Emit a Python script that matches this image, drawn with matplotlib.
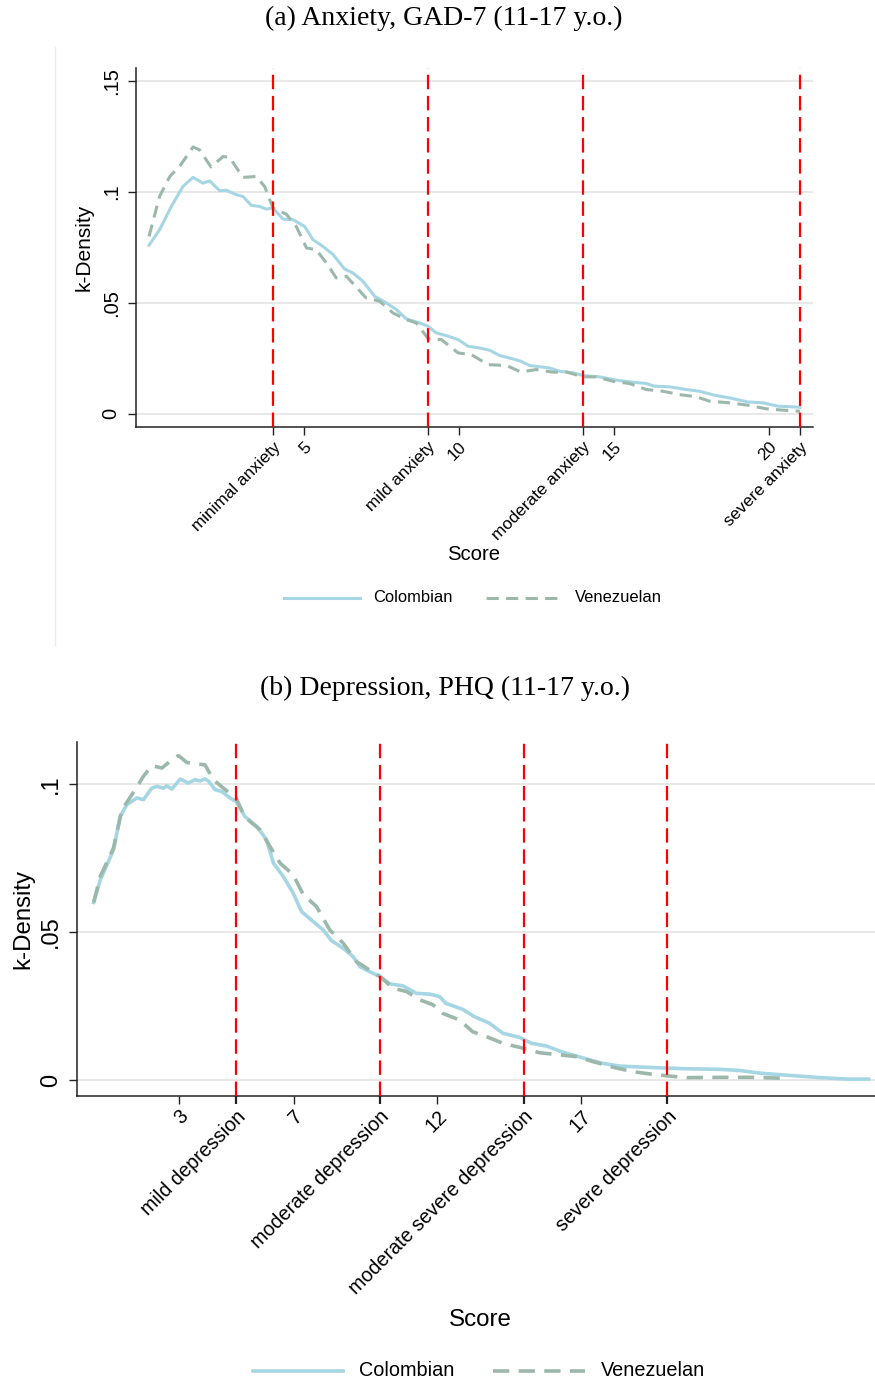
import matplotlib
matplotlib.use("Agg")
import matplotlib.pyplot as plt
from matplotlib.lines import Line2D

# ---------------- data ----------------
# Panel (a): GAD-7 anxiety score, kernel density by nationality
gad_score_col = [0.0, 0.34, 0.72, 1.1, 1.42, 1.74, 1.96, 2.28, 2.49, 2.82, 3.03, 3.3, 3.57, 3.78,
                 4.0, 4.32, 4.65, 5.02, 5.29, 5.61, 5.94, 6.31, 6.58, 6.9, 7.28, 7.66, 7.98,
                 8.3, 8.73, 9.0, 9.27, 9.59, 9.97, 10.29, 10.67, 10.99, 11.31, 11.74, 12.0,
                 12.28, 12.92, 13.25, 13.68, 14.0, 14.54, 15.08, 15.61, 16.04, 16.3, 16.8,
                 17.33, 17.76, 18.25, 18.73, 19.32, 19.8, 20.29, 21.0]
gad_dens_col = [0.076, 0.083, 0.0935, 0.1026, 0.1066, 0.104, 0.105, 0.1006, 0.1008, 0.0988,
                0.098, 0.094, 0.0935, 0.0923, 0.0928, 0.0878, 0.0875, 0.0845, 0.0785, 0.0755,
                0.0718, 0.0653, 0.0635, 0.0598, 0.053, 0.050, 0.047, 0.0428, 0.041, 0.0395,
                0.0365, 0.0353, 0.0335, 0.0305, 0.0297, 0.0287, 0.0263, 0.0248, 0.0237,
                0.0218, 0.0207, 0.0192, 0.0185, 0.0173, 0.0167, 0.0152, 0.0143, 0.0137,
                0.0125, 0.0122, 0.011, 0.0102, 0.0084, 0.0072, 0.0054, 0.005, 0.0035, 0.003]

gad_score_ven = [0.0, 0.34, 0.67, 0.99, 1.42, 1.63, 2.0, 2.39, 2.6, 3.03, 3.46, 3.73, 4.0,
                 4.43, 4.75, 5.08, 5.4, 5.72, 6.04, 6.37, 7.0, 7.44, 7.87, 8.3, 8.62, 9.0,
                 9.43, 9.97, 10.4, 10.94, 11.53, 12.0, 12.49, 13.03, 13.46, 14.0, 14.43,
                 14.97, 15.5, 16.04, 16.58, 17.12, 17.66, 18.09, 18.73, 19.38, 19.91, 20.45,
                 21.0]
gad_dens_ven = [0.080, 0.098, 0.107, 0.1116, 0.1203, 0.119, 0.1113, 0.116, 0.1156, 0.1066,
                0.107, 0.1025, 0.0928, 0.090, 0.0845, 0.0748, 0.074, 0.068, 0.0613, 0.062,
                0.0523, 0.0508, 0.0455, 0.0425, 0.041, 0.034, 0.0335, 0.0275, 0.0267,
                0.0222, 0.0218, 0.0189, 0.020, 0.0188, 0.0189, 0.0167, 0.0167, 0.0147,
                0.0137, 0.011, 0.0102, 0.0087, 0.0077, 0.0057, 0.005, 0.0038, 0.0023,
                0.0017, 0.0012]

gad_cut_values = [4, 9, 14, 21]
gad_cut_labels = ["minimal anxiety", "mild anxiety", "moderate anxiety", "severe anxiety"]
gad_num_ticks = [5, 10, 15, 20]

# Panel (b): PHQ depression score, kernel density by nationality
phq_score_col = [0.05, 0.28, 0.74, 0.97, 1.2, 1.55, 1.78, 2.07, 2.25, 2.48, 2.59, 2.77, 3.06,
                 3.34, 3.58, 3.75, 3.92, 4.04, 4.27, 4.5, 4.79, 5.0, 5.31, 5.72, 6.06, 6.3,
                 6.64, 6.99, 7.28, 7.69, 8.03, 8.32, 8.73, 9.07, 9.31, 9.65, 10.0, 10.35,
                 10.81, 11.27, 11.74, 12.08, 12.3, 12.88, 13.29, 13.81, 14.28, 14.86, 15.27,
                 15.79, 16.37, 16.84, 17.3, 17.77, 18.35, 19.51, 20.67, 21.84, 22.53, 23.23,
                 24.05, 25.33, 26.26, 27.0]
phq_dens_col = [0.060, 0.0676, 0.0778, 0.089, 0.093, 0.0953, 0.0947, 0.0986, 0.0992, 0.0986,
                0.0994, 0.0983, 0.1017, 0.1003, 0.1015, 0.101, 0.1017, 0.101, 0.0981, 0.0975,
                0.0953, 0.0941, 0.089, 0.0857, 0.0812, 0.0733, 0.0688, 0.0631, 0.0569,
                0.0535, 0.0507, 0.0471, 0.0445, 0.0417, 0.0383, 0.0366, 0.035, 0.0325,
                0.0318, 0.0293, 0.029, 0.0282, 0.0259, 0.0239, 0.0214, 0.0192, 0.0158,
                0.0144, 0.0124, 0.0115, 0.0094, 0.0081, 0.0068, 0.0056, 0.0047, 0.0042,
                0.0038, 0.0036, 0.0032, 0.0023, 0.0017, 0.0008, 0.0003, 0.0003]

phq_score_ven = [0.05, 0.28, 0.74, 1.03, 1.38, 1.78, 2.07, 2.42, 2.71, 3.0, 3.29, 3.58, 3.92,
                 4.21, 4.56, 5.0, 5.31, 5.83, 6.18, 6.53, 6.99, 7.34, 7.8, 8.26, 8.73, 9.19,
                 9.54, 10.0, 10.46, 10.93, 11.39, 11.85, 12.19, 12.77, 13.23, 13.7, 14.28,
                 15.0, 15.56, 16.26, 16.84, 17.42, 18.12, 18.81, 19.51, 20.0, 20.67, 21.84,
                 23.0, 24.0]
phq_dens_ven = [0.060, 0.0688, 0.0784, 0.0913, 0.0964, 0.1026, 0.1062, 0.1054, 0.1077,
                0.1096, 0.1073, 0.1068, 0.1065, 0.1015, 0.0986, 0.0953, 0.0888, 0.0846,
                0.0789, 0.0733, 0.0693, 0.0626, 0.0586, 0.0507, 0.0462, 0.040, 0.0378,
                0.035, 0.031, 0.0299, 0.0271, 0.0254, 0.0225, 0.0203, 0.0163, 0.0147,
                0.0124, 0.0107, 0.0092, 0.0085, 0.0079, 0.0062, 0.0043, 0.0028, 0.0019,
                0.0014, 0.0008, 0.0009, 0.0009, 0.0006]

phq_cut_values = [5, 10, 15, 20]
phq_cut_labels = ["mild depression", "moderate depression",
                  "moderate severe depression", "severe depression"]
phq_num_ticks = [3, 7, 12, 17]

# ---------------- style ----------------
COL_COL = "#a6d6e4"
VEN_COL = "#9bb8ab"
CUT_COL = "#ff0000"
GRID_COL = "#e6e6e6"
SANS = ["Liberation Sans", "DejaVu Sans"]
SERIF = ["Liberation Serif", "DejaVu Serif"]

W, H = 875, 1385
fig = plt.figure(figsize=(W / 100, H / 100), dpi=100)
fig.patch.set_facecolor("white")


def px_axes(left, right, top, bottom):
    return fig.add_axes([left / W, 1 - bottom / H, (right - left) / W, (bottom - top) / H])


def fmt_y(v):
    s = ("%g" % v)
    return s[1:] if s.startswith("0.") else s


def draw_panel(ax, xs_c, ys_c, xs_v, ys_v, cuts, cut_labels, nums, yticks,
               xlim, ylim, sizes, lws, dash_v, red_ticks, xpad):
    ytick_fs, xtick_fs = sizes
    ax.set_xlim(*xlim)
    ax.set_ylim(*ylim)
    for y in yticks:
        ax.axhline(y, color=GRID_COL, lw=1.3, zorder=0)
    for c in cuts:
        ax.axvline(c, color=CUT_COL, lw=1.6, dashes=(6.5, 3.0), zorder=3)
    ax.plot(xs_c, ys_c, color=COL_COL, lw=lws, solid_joinstyle="round", zorder=2)
    ax.plot(xs_v, ys_v, color=VEN_COL, lw=lws, dashes=dash_v, zorder=2)

    for s in ("top", "right"):
        ax.spines[s].set_visible(False)
    for s in ("left", "bottom"):
        ax.spines[s].set_color("#222222")
        ax.spines[s].set_linewidth(1.1)

    ax.set_yticks(yticks)
    ax.set_yticklabels([fmt_y(v) for v in yticks], rotation=90, va="center",
                       family=SANS, fontsize=ytick_fs)
    ax.tick_params(axis="y", length=6, width=1.0, pad=5, color="#222222")

    ticks = list(cuts) + list(nums)
    labels = list(cut_labels) + [str(n) for n in nums]
    order = sorted(range(len(ticks)), key=lambda i: ticks[i])
    ax.set_xticks([ticks[i] for i in order])
    ax.set_xticklabels([labels[i] for i in order], rotation=45, ha="right",
                       rotation_mode="anchor", family=SANS, fontsize=xtick_fs)
    ax.tick_params(axis="x", length=6, width=1.0, pad=xpad, color="#222222")
    if red_ticks:
        for t, lab in zip(ax.xaxis.get_major_ticks(), [labels[i] for i in order]):
            if lab in cut_labels:
                t.tick1line.set_color(CUT_COL)
                t.tick1line.set_markeredgewidth(1.6)


# ---------------- panel (a) ----------------
ax1 = px_axes(136, 813, 68, 427)
draw_panel(ax1, gad_score_col, gad_dens_col, gad_score_ven, gad_dens_ven,
           gad_cut_values, gad_cut_labels, gad_num_ticks, [0, 0.05, 0.1, 0.15],
           (-0.42, 21.42), (-0.0059, 0.1559), (14.5, 12.3), 2.2, (4.0, 2.4), False, 3)
ax1.set_ylabel("k-Density", family=SANS, fontsize=15, labelpad=6)
fig.text(444 / W, 1 - 18 / H, "(a) Anxiety, GAD-7 (11-17 y.o.)", family=SERIF,
         fontsize=20, ha="center", va="center")
fig.text(474 / W, 1 - 554 / H, "Score", family=SANS, fontsize=14.6,
         ha="center", va="center")
fig.add_artist(Line2D([55 / W, 55 / W], [1 - 47 / H, 1 - 645 / H], color="#ececec", lw=1.0))

# legend (a)
la_y = 1 - 598 / H
fig.add_artist(Line2D([284 / W, 360 / W], [la_y, la_y], color=COL_COL, lw=2.2))
fig.text(373 / W, la_y, "Colombian", family=SANS, fontsize=11.9, va="center")
fig.add_artist(Line2D([486 / W, 563 / W], [la_y, la_y], color=VEN_COL, lw=2.2, dashes=(4.0, 2.4)))
fig.text(575 / W, la_y, "Venezuelan", family=SANS, fontsize=11.9, va="center")

# ---------------- panel (b) ----------------
ax2 = px_axes(77, 875, 741.7, 1095.7)
draw_panel(ax2, phq_score_col, phq_dens_col, phq_score_ven, phq_dens_ven,
           phq_cut_values, phq_cut_labels, phq_num_ticks, [0, 0.05, 0.1],
           (-0.53, 27.22), (-0.0053, 0.1143), (17, 14.2), 2.6, (4.5, 2.6), True, 2)
ax2.set_ylabel("k-Density", family=SANS, fontsize=17.3, labelpad=4)
fig.text(445 / W, 1 - 688 / H, "(b) Depression, PHQ (11-17 y.o.)", family=SERIF,
         fontsize=20, ha="center", va="center")
fig.text(480 / W, 1 - 1320 / H, "Score", family=SANS, fontsize=17.4,
         ha="center", va="center")

# legend (b)
lb_y = 1 - 1371 / H
fig.add_artist(Line2D([253 / W, 343 / W], [lb_y, lb_y], color=COL_COL, lw=2.6))
fig.text(359 / W, lb_y, "Colombian", family=SANS, fontsize=14.3, va="center")
fig.add_artist(Line2D([493 / W, 585 / W], [lb_y, lb_y], color=VEN_COL, lw=2.6, dashes=(4.5, 2.6)))
fig.text(601 / W, lb_y, "Venezuelan", family=SANS, fontsize=14.3, va="center")

fig.savefig("out.png", dpi=100, facecolor="white")
